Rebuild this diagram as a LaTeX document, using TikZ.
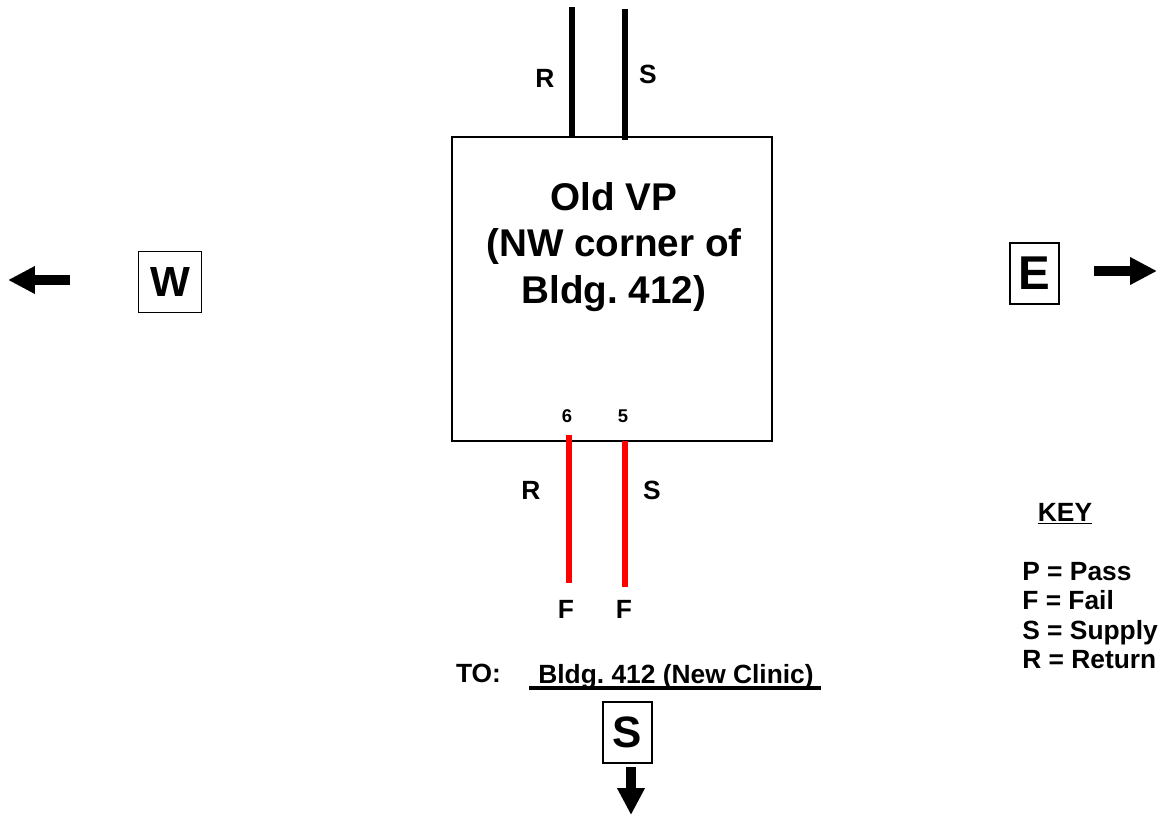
\documentclass[tikz,border=0pt]{standalone}
\usepackage{fontspec}
\setmainfont{Liberation Sans}
\usetikzlibrary{arrows.meta}

\begin{document}
\frenchspacing
\begin{tikzpicture}[
	x=0.02cm, y=-0.02cm,
	lbl/.style={ inner sep=0pt, font=\bfseries\fontsize{15}{18}\selectfont },
	pinlbl/.style={ inner sep=0pt, font=\bfseries\fontsize{10.5}{12}\selectfont },
	dirbox/.style={ draw, line width=0.6pt, inner xsep=0.15cm, inner ysep=0pt, minimum width=0.98cm, minimum height=1.22cm },
	vpbox/.style={ draw, line width=1.5pt, minimum width=6.4cm, minimum height=6.08cm },
	pipe/.style={ line width=2.9pt },
	redpipe/.style={ red, line width=2.9pt },
	compass/.style={ line width=0.2cm, -{Triangle[length=0.54cm,width=0.52cm]} }
]
\useasboundingbox (0,0) rectangle (1162,815);

% valve pit
\node at (612,289) (vp) [vpbox] {};
\node at (614,247) (vptext) [align=center, font=\bfseries\fontsize{22}{26.5}\selectfont] {Old VP\\(NW corner of\\Bldg. 412)};

% incoming lines
\coordinate (rin) at (572,7);
\coordinate (sin) at (625,9);
\draw[pipe] (rin) -- (rin |- vp.north);
\draw[pipe] (sin) -- ([yshift=-0.08cm]sin |- vp.north);
\node at (545,78) (rinlbl) [lbl] {R};
\node at (648,74) (sinlbl) [lbl] {S};

% outgoing lines
\coordinate (rout1) at (569,435);
\coordinate (rout2) at (569,583);
\coordinate (sout1) at (625,441);
\coordinate (sout2) at (625,587);
\draw[redpipe] (rout1) -- (rout2);
\draw[redpipe] (sout1) -- (sout2);
\node at (567,416.5) (rpin) [pinlbl] {6};
\node at (623,416.5) (spin) [pinlbl] {5};
\node at (531,490) (routlbl) [lbl] {R};
\node at (652,490) (soutlbl) [lbl] {S};
\node at (566,609) (rfail) [lbl] {F};
\node at (624,609) (sfail) [lbl] {F};

% destination
\node at (478.5,673.5) (tolbl) [lbl] {TO:};
\node at (676,683) (dest) [lbl, anchor=base] {Bldg. 412 (New Clinic)};
\coordinate (ul1) at (529,688);
\coordinate (ul2) at (821,688);
\draw[line width=2pt] (ul1) -- (ul2);

% compass
\node at (170,282) (west) [dirbox, inner xsep=0.23cm, font=\bfseries\fontsize{24}{28}\selectfont] {W};
\node at (1034.5,273.5) (east) [dirbox, font=\bfseries\fontsize{27}{30}\selectfont] {E};
\node at (627.5,732.5) (south) [dirbox, font=\bfseries\fontsize{25}{28}\selectfont] {S};
\coordinate (wtail) at (70,280);
\coordinate (wtip) at (8,280);
\coordinate (etail) at (1094,271);
\coordinate (etip) at (1157,271);
\coordinate (stail) at (631,767);
\coordinate (stip) at (631,815);
\draw[compass] (wtail) -- (wtip);
\draw[compass] (etail) -- (etip);
\draw[compass] (stail) -- (stip);

% key
\node at (1065,521) (key) [lbl, anchor=base] {\underline{KEY}};
\foreach \t [count=\i from 0] in {P = Pass, F = Fail, S = Supply, R = Return}
	\node at (1022,580+29.5*\i) (key\i) [lbl, anchor=base west] {\t};

\end{tikzpicture}
\end{document}
